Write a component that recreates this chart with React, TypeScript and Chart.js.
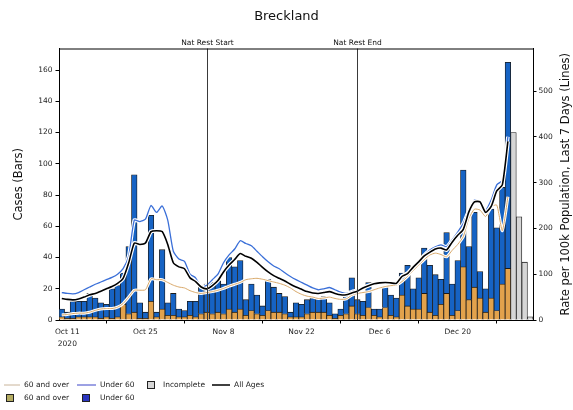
import React, { useEffect, useRef } from 'react';
import { Chart, registerables } from 'chart.js';

Chart.register(...registerables);

const MONTHS = ['Jan', 'Feb', 'Mar', 'Apr', 'May', 'Jun', 'Jul', 'Aug', 'Sep', 'Oct', 'Nov', 'Dec'];
// one category per day, 10 Oct 2020 .. 2 Jan 2021
const categories: string[] = Array.from({ length: 85 }, (_, i) => {
  const d = new Date(2020, 9, 10 + i);
  return `${MONTHS[d.getMonth()]} ${d.getDate()}`;
});

const tickIndices = [1, 15, 29, 43, 57, 71];
const tickLabels: (string | string[])[] = [['Oct 11', '2020'], 'Oct 25', 'Nov 8', 'Nov 22', 'Dec 6', 'Dec 20'];

const casesTicks = [0, 20, 40, 60, 80, 100, 120, 140, 160];
const rateTicks = [0, 100, 200, 300, 400, 500];

const restrictionIndices = [26, 53];
const restrictionLabels = ['Nat Rest Start', 'Nat Rest End'];

const N = null;

const casesOver60 = [
  2, 1, 1, 2, 2, 2, 2, 1, 2, 1,
  2, 10, 4, 5, 1, 1, 12, 2, 7, 3,
  3, 2, 2, 3, 2, 4, 5, 4, 5, 4,
  7, 5, 7, 3, 6, 4, 3, 6, 5, 5,
  4, 2, 2, 2, 4, 5, 5, 5, 3, 1,
  3, 4, 9, 4, 3, 8, 3, 2, 8, 3,
  2, 16, 9, 7, 7, 17, 5, 3, 10, 17,
  3, 6, 34, 13, 21, 14, 5, 14, 6, 23,
  33, N, N, N, N,
];

const casesUnder60 = [
  5, 4, 11, 10, 10, 15, 12, 10, 8, 19,
  20, 20, 43, 88, 10, 4, 55, 3, 38, 8,
  14, 5, 4, 9, 10, 18, 18, 20, 20, 19,
  33, 29, 31, 10, 17, 12, 6, 20, 16, 12,
  11, 3, 9, 8, 9, 9, 9, 10, 8, 3,
  4, 11, 18, 9, 9, 16, 4, 5, 13, 13,
  12, 14, 26, 13, 20, 29, 30, 26, 16, 39,
  20, 32, 62, 34, 48, 17, 15, 57, 53, 62,
  132, N, N, N, N,
];

const casesIncomplete = [
  N, N, N, N, N, N, N, N, N, N,
  N, N, N, N, N, N, N, N, N, N,
  N, N, N, N, N, N, N, N, N, N,
  N, N, N, N, N, N, N, N, N, N,
  N, N, N, N, N, N, N, N, N, N,
  N, N, N, N, N, N, N, N, N, N,
  N, N, N, N, N, N, N, N, N, N,
  N, N, N, N, N, N, N, N, N, N,
  N, 120, 66, 37, 2,
];

const rateOver60 = [
  11, 12, 14, 15, 15, 17, 21, 24, 25, 25,
  28, 36, 50, 65, 65, 66, 90, 88, 88, 82,
  76, 72, 70, 64, 60, 58, 60, 62, 65, 69,
  74, 78, 82, 88, 90, 91, 89, 86, 83, 80,
  76, 70, 62, 56, 52, 50, 47, 48, 50, 47,
  45, 46, 54, 58, 60, 62, 66, 70, 73, 75,
  76, 84, 95, 108, 120, 132, 142, 146, 143, 138,
  152, 165, 182, 222, 242, 240, 226, 247, 251, 195,
  269, N, N, N, N,
];

const rateUnder60 = [
  60, 58, 57, 60, 66, 72, 78, 83, 88, 93,
  100, 112, 140, 218, 215, 220, 250, 235, 249, 218,
  150, 133, 128, 100, 92, 72, 76, 88, 100, 125,
  142, 155, 173, 167, 162, 150, 138, 127, 118, 112,
  103, 95, 88, 82, 76, 70, 66, 68, 71, 66,
  61, 58, 62, 65, 70, 75, 79, 82, 84, 82,
  80, 96, 103, 115, 128, 142, 153, 160, 164, 160,
  175, 192, 211, 240, 262, 256, 240, 262, 295, 305,
  400, N, N, N, N,
];

const rateAllAges = [
  47, 45, 44, 46, 50, 55, 58, 63, 68, 73,
  80, 91, 125, 168, 165, 168, 193, 195, 193, 165,
  125, 116, 112, 92, 84, 72, 68, 75, 86, 105,
  120, 132, 145, 139, 135, 126, 115, 105, 97, 91,
  85, 78, 72, 67, 62, 59, 58, 60, 62, 58,
  55, 55, 59, 63, 70, 75, 79, 81, 82, 81,
  80, 95, 101, 115, 127, 140, 148, 155, 157, 153,
  170, 185, 198, 236, 258, 258, 235, 248, 282, 295,
  390, N, N, N, N,
];

const BLUE_BAR = '#1663c4';
const TAN_BAR = '#e2a24c';
const GREY_BAR = '#d6d6d6';
const BLUE_LINE = '#3a6fd8';
const TAN_LINE = '#d9a868';
const BLACK_LINE = '#000000';
const FONT = '"DejaVu Sans", sans-serif';

const lineDataset = (label: string, data: (number | null)[], color: string, width: number, order: number) => ({
  type: 'line' as const,
  label,
  data,
  yAxisID: 'y1',
  borderColor: color,
  borderWidth: width,
  pointRadius: 0,
  tension: 0.2,
  fill: false,
  order,
  spanGaps: false,
});

const decorPlugin = {
  id: 'decor',
  afterDatasetsDraw(chart: any) {
    const { ctx, chartArea, scales } = chart;
    ctx.save();
    restrictionIndices.forEach((idx, k) => {
      const x = Math.round(scales.x.getPixelForValue(idx)) + 0.5;
      ctx.strokeStyle = '#3a3a3a';
      ctx.lineWidth = 1;
      ctx.beginPath();
      ctx.moveTo(x, chartArea.top);
      ctx.lineTo(x, chartArea.bottom);
      ctx.stroke();
      ctx.fillStyle = '#111';
      ctx.font = `7.5px ${FONT}`;
      ctx.textAlign = 'center';
      ctx.textBaseline = 'alphabetic';
      ctx.fillText(restrictionLabels[k], x, chartArea.top - 4);
    });
    ctx.strokeStyle = '#000';
    ctx.lineWidth = 1;
    ctx.beginPath();
    ctx.moveTo(chartArea.left, chartArea.top + 0.5);
    ctx.lineTo(chartArea.right, chartArea.top + 0.5);
    ctx.stroke();
    ctx.restore();
  },
  afterDraw(chart: any) {
    const { ctx, chartArea } = chart;
    ctx.save();
    ctx.fillStyle = '#111';
    ctx.font = `13px ${FONT}`;
    ctx.textAlign = 'center';
    ctx.textBaseline = 'middle';
    ctx.fillText('Breckland', chart.width / 2, 17);
    const midY = (chartArea.top + chartArea.bottom) / 2;
    ctx.font = `11.5px ${FONT}`;
    ctx.save();
    ctx.translate(19, midY);
    ctx.rotate(-Math.PI / 2);
    ctx.fillText('Cases (Bars)', 0, 0);
    ctx.restore();
    ctx.save();
    ctx.translate(566, midY);
    ctx.rotate(-Math.PI / 2);
    ctx.fillText('Rate per 100k Population, Last 7 Days (Lines)', 0, 0);
    ctx.restore();

    ctx.font = `7.5px ${FONT}`;
    ctx.textAlign = 'left';
    ctx.textBaseline = 'middle';
    const row1 = 385;
    const row2 = 398;
    const lineSample = (x0: number, x1: number, y: number, color: string, w: number) => {
      ctx.strokeStyle = color;
      ctx.lineWidth = w;
      ctx.beginPath();
      ctx.moveTo(x0, y);
      ctx.lineTo(x1, y);
      ctx.stroke();
    };
    const square = (x: number, y: number, color: string) => {
      ctx.fillStyle = color;
      ctx.fillRect(x, y - 4, 8, 8);
      ctx.strokeStyle = '#222';
      ctx.lineWidth = 1;
      ctx.strokeRect(x + 0.5, y - 3.5, 7, 7);
    };
    lineSample(4, 20, row1, '#c9b49a', 1);
    lineSample(77, 96, row1, '#3a45c8', 1);
    square(147, row1, GREY_BAR);
    lineSample(212, 230, row1, '#000', 1.5);
    square(6, row2, '#b4ac62');
    square(82, row2, '#2b36c0');
    ctx.fillStyle = '#222';
    ctx.fillText('60 and over', 24, row1);
    ctx.fillText('Under 60', 100, row1);
    ctx.fillText('Incomplete', 163, row1);
    ctx.fillText('All Ages', 234, row1);
    ctx.fillText('60 and over', 24, row2);
    ctx.fillText('Under 60', 100, row2);
    ctx.restore();
  },
};

export default function App() {
  const canvasRef = useRef<HTMLCanvasElement | null>(null);

  useEffect(() => {
    if (!canvasRef.current) return;
    const tickFont = { family: FONT, size: 7.5 };
    const bar = (label: string, data: (number | null)[], color: string, order: number) => ({
      type: 'bar' as const,
      label,
      data,
      backgroundColor: color,
      borderColor: '#1a1a1a',
      borderWidth: 0.8,
      barPercentage: 1,
      categoryPercentage: 1,
      stack: 'cases',
      yAxisID: 'y',
      order,
    });
    const chart = new Chart(canvasRef.current, {
      data: {
        labels: categories,
        datasets: [
          bar('60 and over', casesOver60, TAN_BAR, 20),
          bar('Under 60', casesUnder60, BLUE_BAR, 21),
          bar('Incomplete', casesIncomplete, GREY_BAR, 22),
          lineDataset('60 and over halo', rateOver60, '#ffffff', 3, 9),
          lineDataset('60 and over', rateOver60, TAN_LINE, 1, 8),
          lineDataset('Under 60 halo', rateUnder60, '#ffffff', 3.5, 7),
          lineDataset('Under 60', rateUnder60, BLUE_LINE, 1.3, 6),
          lineDataset('All Ages halo', rateAllAges, '#ffffff', 4, 5),
          lineDataset('All Ages', rateAllAges, BLACK_LINE, 1.6, 4),
        ] as any,
      },
      options: {
        responsive: false,
        animation: false,
        devicePixelRatio: 1,
        layout: { padding: { top: 48.5, left: 0, right: 0, bottom: 0 } },
        plugins: {
          legend: { display: false },
          tooltip: { enabled: false },
          title: { display: false },
        },
        scales: {
          x: {
            type: 'category',
            stacked: true,
            offset: true,
            grid: { drawOnChartArea: false, drawTicks: true, tickLength: 3.5, color: '#000' },
            border: { display: true, color: '#000', width: 1 },
            ticks: {
              autoSkip: false,
              maxRotation: 0,
              minRotation: 0,
              padding: 2,
              color: '#222',
              font: { ...tickFont, lineHeight: 1.65 },
              callback: (value: any) => {
                const k = tickIndices.indexOf(Number(value));
                return k >= 0 ? tickLabels[k] : '';
              },
            },
            afterBuildTicks: (scale: any) => {
              scale.ticks = scale.ticks.filter((t: any) => tickIndices.includes(t.value));
            },
            afterFit: (scale: any) => {
              scale.height = 90;
            },
          },
          y: {
            type: 'linear',
            position: 'left',
            stacked: true,
            min: 0,
            max: 173.8,
            grid: { drawOnChartArea: false, drawTicks: true, tickLength: 3.5, color: '#000' },
            border: { display: true, color: '#000', width: 1 },
            ticks: { padding: 3, color: '#222', font: tickFont },
            afterBuildTicks: (scale: any) => {
              scale.ticks = casesTicks.map((v) => ({ value: v }));
            },
            afterFit: (scale: any) => {
              scale.width = 59;
            },
          },
          y1: {
            type: 'linear',
            position: 'right',
            min: 0,
            max: 592.8,
            grid: { drawOnChartArea: false, drawTicks: true, tickLength: 3.5, color: '#000' },
            border: { display: true, color: '#000', width: 1 },
            ticks: { padding: 2, color: '#222', font: tickFont },
            afterBuildTicks: (scale: any) => {
              scale.ticks = rateTicks.map((v) => ({ value: v }));
            },
            afterFit: (scale: any) => {
              scale.width = 40;
            },
          },
        },
      } as any,
      plugins: [decorPlugin],
    });
    return () => chart.destroy();
  }, []);

  return (
    <div style={{ position: 'absolute', left: 0, top: 0, width: 573, height: 410, background: '#fff' }}>
      <canvas ref={canvasRef} width={573} height={410} style={{ width: 573, height: 410, display: 'block' }} />
    </div>
  );
}
